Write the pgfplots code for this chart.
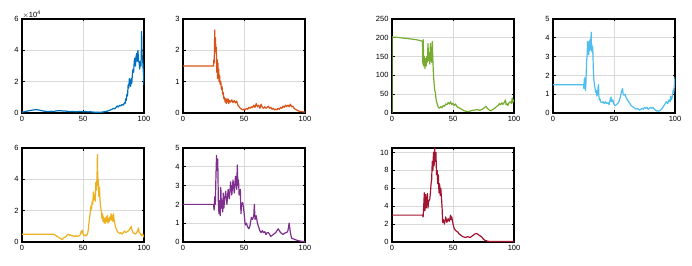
\documentclass[border=0pt]{standalone}
\usepackage{fontspec}
\setmainfont{Liberation Sans}
\usepackage{pgfplots}
\pgfplotsset{compat=1.18}
\definecolor{c1}{rgb}{0,0.447,0.741}
\definecolor{c2}{rgb}{0.85,0.325,0.098}
\definecolor{c3}{rgb}{0.929,0.694,0.125}
\definecolor{c4}{rgb}{0.494,0.184,0.556}
\definecolor{c5}{rgb}{0.466,0.674,0.188}
\definecolor{c6}{rgb}{0.301,0.745,0.933}
\definecolor{c7}{rgb}{0.635,0.078,0.184}
\pgfplotsset{
  mstyle/.style={
    width=122pt, height=94pt, scale only axis, anchor=south west,
    xmin=0, xmax=100, xtick={0,50,100}, ymin=0,
    grid=major, major grid style={line width=1pt, black!15},
    axis line style={line width=1.3pt, black},
    tick align=inside, major tick length=2.5pt,
    tick style={black, line width=0.7pt},
    ticklabel style={font=\fontsize{7.5}{9}\selectfont, text=black},
    /pgf/number format/assume math mode=true,
    scaled y ticks=false, clip mode=individual,
    every axis plot/.append style={line width=1.2pt, line join=round},
  }
}
\begin{document}
\begin{tikzpicture}
\useasboundingbox (0,0) rectangle (692pt,265pt);
% 1 blue
\begin{axis}[mstyle, at={(22pt,152pt)}, ymax=60000, ytick={0,20000,40000,60000}, yticklabels={0,2,4,6}]
\addplot[c1] coordinates {(0,500)(2,800)(4,1200)(6,1500)(8,1800)(10,2000)(12,2100)(14,1900)(16,1500)(18,1200)(20,1000)(22,900)(24,1100)(26,1000)(28,1300)(30,1500)(32,1400)(34,1300)(36,1200)(38,1000)(40,900)(42,1000)(44,800)(46,900)(48,1000)(50,800)(52,900)(54,700)(56,800)(58,600)(60,500)(62,500)(64,400)(66,600)(68,900)(70,1200)(72,1800)(74,2500)(75,3000)(76,2600)(77,3500)(78,4500)(79,3800)(80,5000)(81,4500)(82,5500)(83,5000)(84,6500)(84.5,6000)(85,9000)(85.5,8000)(86,12000)(86.5,11000)(87,18000)(87.5,16000)(88,22000)(88.5,19000)(89,17000)(89.5,22000)(90,19000)(90.5,25000)(91,28000)(91.5,26000)(92,33000)(92.5,35000)(93,30000)(93.5,36000)(94,38000)(94.5,33000)(95,40000)(95.5,34000)(96,32000)(96.5,28000)(97,33000)(97.5,30000)(97.8,38000)(98,52000)(98.3,40000)(98.6,35000)(99,33000)(99.3,28000)(99.6,25000)(100,18000)};
\node[anchor=south west, font=\fontsize{7.5}{9}\selectfont, text=black, inner sep=0.5pt] at (rel axis cs:0,1) {$\times\mathrm{10}^{\mathrm{4}}$};
\end{axis}
% 2 orange
\begin{axis}[mstyle, at={(183pt,152pt)}, ymax=3, ytick={0,1,2,3}]
\addplot[c2] coordinates {(0,1.5)(25,1.5)(25.3,1.7)(25.6,1.6)(26,2.65)(26.3,2.0)(26.6,2.4)(27,1.9)(27.3,2.1)(27.6,1.3)(28,1.7)(28.3,1.1)(28.6,1.6)(29,1.2)(29.3,1.4)(29.6,1.0)(30,1.2)(30.5,0.9)(31,1.0)(31.5,0.75)(32,0.85)(32.5,0.6)(33,0.65)(33.5,0.45)(34,0.5)(34.5,0.35)(35,0.45)(35.5,0.3)(36,0.45)(36.5,0.35)(37,0.45)(37.5,0.3)(38,0.4)(39,0.35)(40,0.42)(41,0.33)(42,0.4)(43,0.32)(44,0.38)(45,0.25)(46,0.2)(47,0.15)(48,0.12)(49,0.1)(50,0.12)(51,0.1)(52,0.15)(53,0.12)(54,0.18)(55,0.15)(56,0.2)(57,0.17)(58,0.25)(59,0.18)(60,0.3)(61,0.2)(62,0.25)(63,0.15)(64,0.28)(65,0.18)(66,0.15)(67,0.2)(68,0.15)(69,0.18)(70,0.22)(71,0.15)(72,0.18)(73,0.12)(74,0.15)(75,0.1)(76,0.12)(77,0.1)(78,0.15)(79,0.12)(80,0.18)(81,0.15)(82,0.22)(83,0.18)(84,0.25)(85,0.2)(86,0.25)(87,0.2)(88,0.28)(89,0.2)(90,0.22)(91,0.15)(92,0.12)(93,0.1)(94,0.08)(95,0.06)(96,0.05)(98,0.04)(100,0.03)};
\end{axis}
% 3 green
\begin{axis}[mstyle, at={(392pt,152pt)}, ymax=250, ytick={0,50,100,150,200,250}]
\addplot[c5] coordinates {(0,0)(0.01,202)(5,201)(10,199)(15,197)(20,195)(24,192)(25,190)(25.3,130)(25.6,195)(26,125)(26.5,150)(27,118)(27.5,145)(28,125)(28.5,150)(29,135)(29.5,185)(30,140)(30.5,160)(31,130)(31.5,185)(32,150)(32.5,135)(33,190)(33.5,140)(34,100)(34.5,80)(35,60)(35.5,55)(36,40)(36.5,30)(37,25)(38,15)(39,13)(40,17)(41,14)(42,20)(43,18)(44,24)(45,22)(46,28)(47,24)(48,30)(49,22)(50,26)(51,20)(52,24)(53,18)(54,15)(55,14)(56,12)(57,10)(58,8)(59,6)(60,5)(62,4)(64,5)(66,7)(68,8)(70,9)(72,7)(74,10)(75,12)(76,15)(77,18)(78,13)(79,10)(80,7)(81,6)(82,8)(83,10)(84,12)(85,15)(86,18)(87,20)(88,25)(89,22)(90,27)(91,23)(92,28)(93,35)(93.5,22)(94,25)(95,20)(96,28)(97,30)(98,25)(98.5,40)(99,28)(99.5,35)(100,30)};
\end{axis}
% 4 light blue
\begin{axis}[mstyle, at={(553pt,152pt)}, ymax=5, ytick={0,1,2,3,4,5}]
\addplot[c6] coordinates {(0,1.5)(25,1.5)(25.3,1.3)(25.6,1.8)(26,1.3)(26.3,1.9)(26.6,1.2)(27,1.6)(27.3,2.3)(27.6,2.8)(28,3.1)(28.3,3.8)(28.6,3.2)(29,3.7)(29.3,3.1)(29.6,3.8)(30,3.3)(30.3,3.9)(30.6,3.4)(31,3.6)(31.3,4.3)(31.6,3.3)(32,3.6)(32.3,3.2)(32.6,3.5)(33,2.4)(33.3,2.0)(33.6,1.7)(34,1.5)(34.5,1.3)(35,1.1)(35.5,1.2)(36,0.9)(36.5,1.0)(37,1.4)(37.3,1.5)(37.6,0.9)(38,0.7)(38.5,0.75)(39,0.6)(40,0.55)(41,0.6)(42,0.5)(43,0.6)(44,0.5)(45,0.55)(46,0.45)(47,0.75)(47.5,0.85)(48,0.6)(49,0.7)(50,0.45)(51,0.4)(52,0.45)(53,0.5)(54,0.6)(55,0.8)(56,1.1)(57,1.3)(57.5,1.0)(58,0.95)(59,1.0)(60,0.8)(61,0.7)(62,0.6)(63,0.5)(64,0.4)(65,0.35)(66,0.3)(67,0.25)(68,0.2)(69,0.25)(70,0.2)(71,0.15)(72,0.2)(73,0.25)(74,0.2)(75,0.3)(76,0.25)(77,0.3)(78,0.2)(79,0.25)(80,0.3)(81,0.25)(82,0.3)(83,0.2)(84,0.15)(85,0.1)(86,0.12)(87,0.1)(88,0.15)(89,0.2)(90,0.3)(91,0.4)(92,0.5)(93,0.6)(94,0.5)(95,0.7)(96,0.6)(96.5,0.9)(97,0.7)(98,0.9)(98.5,1.2)(99,1.1)(99.5,1.5)(100,1.9)};
\end{axis}
% 5 yellow
\begin{axis}[mstyle, at={(22pt,23pt)}, ymax=6, ytick={0,2,4,6}]
\addplot[c3] coordinates {(0,0.5)(26,0.5)(27,0.45)(28,0.4)(29,0.35)(30,0.3)(31,0.25)(32,0.2)(33,0.15)(34,0.25)(35,0.3)(36,0.35)(37,0.45)(38,0.5)(39,0.42)(40,0.45)(41,0.38)(42,0.4)(43,0.35)(44,0.4)(45,0.35)(46,0.38)(47,0.4)(48,0.5)(48.5,0.7)(49,0.6)(49.5,0.75)(50,0.5)(51,0.4)(52,0.45)(53,0.4)(54,0.6)(54.5,0.9)(55,1.3)(55.5,1.6)(56,1.9)(56.5,2.3)(57,2.1)(57.5,2.6)(58,2.4)(58.5,3.2)(59,2.7)(59.5,3.0)(60,2.6)(60.5,3.8)(61,3.3)(61.5,4.2)(61.8,5.6)(62.2,3.6)(62.5,4.0)(63,2.9)(63.5,3.5)(64,2.6)(64.5,2.2)(65,2.0)(65.5,1.5)(66,1.8)(66.5,1.3)(67,1.6)(67.5,1.2)(68,1.5)(68.5,1.2)(69,1.6)(69.5,1.3)(70,1.7)(70.5,1.2)(71,1.5)(71.5,1.3)(72,1.6)(72.5,1.4)(73,1.8)(73.5,1.4)(74,1.7)(74.5,1.3)(75,1.8)(75.5,1.4)(76,1.2)(76.5,1.0)(77,0.9)(77.5,0.8)(78,0.7)(79,0.6)(80,0.55)(81,0.6)(82,0.5)(83,0.6)(84,0.7)(85,0.6)(86,0.65)(87,0.7)(88,0.8)(89,0.9)(89.5,1.0)(90,0.8)(91,0.6)(92,0.55)(93,0.5)(94,0.6)(95,0.75)(95.5,0.9)(96,0.6)(97,0.55)(98,0.4)(99,0.5)(100,0.3)};
\end{axis}
% 6 purple
\begin{axis}[mstyle, at={(183pt,23pt)}, ymax=5, ytick={0,1,2,3,4,5}]
\addplot[c4] coordinates {(0,2)(25,2)(25.5,1.7)(26,2.4)(26.5,2.0)(27,3.5)(27.5,4.6)(28,3.8)(28.5,4.4)(29,2.0)(29.5,1.5)(30,2.2)(30.5,1.4)(31,2.9)(31.5,1.8)(32,2.2)(32.5,1.6)(33,2.6)(33.5,1.8)(34,2.2)(35,2.7)(36,2.0)(37,2.8)(38,2.3)(39,3.2)(40,2.5)(41,3.3)(42,2.6)(43,3.5)(44,2.8)(44.5,4.1)(45,3.0)(45.5,3.3)(46,2.5)(47,2.8)(47.5,1.5)(48,2.0)(49,2.1)(50,1.6)(51,0.9)(52,1.0)(53,0.8)(54,0.7)(55,0.9)(56,1.3)(57,1.2)(58,1.4)(58.5,2.0)(59,1.2)(60,1.4)(61,1.0)(62,0.8)(63,0.6)(64,0.5)(65,0.6)(66,0.5)(67,0.55)(68,0.4)(69,0.5)(70,0.5)(71,0.4)(72,0.3)(73,0.35)(74,0.4)(75,0.45)(76,0.5)(77,0.6)(78,0.7)(79,0.6)(80,0.5)(81,0.45)(82,0.4)(83,0.45)(84,0.5)(85,0.5)(86,0.6)(87,1.0)(88,0.5)(89,0.2)(90,0.18)(91,0.15)(93,0.1)(96,0.05)(100,0.01)};
\end{axis}
% 7 dark red
\begin{axis}[mstyle, at={(392pt,23pt)}, ymax=10.5, ytick={0,2,4,6,8,10}]
\addplot[c7] coordinates {(0,3)(25,3)(25.5,2.8)(26,4.0)(26.5,5.5)(27,3.5)(27.5,5.3)(28,3.8)(28.5,4.5)(29,5.4)(29.5,3.8)(30,4.5)(31,4.8)(31.5,5.5)(32,6.5)(32.5,7.0)(33,9.0)(33.5,8.0)(34,10.0)(34.5,8.5)(35,10.5)(35.5,9.0)(36,10.0)(36.5,7.5)(37,8.0)(37.5,6.5)(38,7.5)(38.5,5.5)(39,6.5)(39.5,5.2)(40,6.0)(40.5,5.0)(41,4.0)(41.5,2.2)(42,2.5)(43,2.0)(44,2.8)(45,2.2)(46,2.6)(47,2.3)(48,3.0)(48.5,2.5)(49,2.8)(50,2.0)(51,1.5)(52,1.3)(53,1.2)(54,1.1)(55,0.9)(56,0.8)(57,0.7)(58,0.6)(59,0.55)(60,0.5)(61,0.55)(62,0.6)(63,0.55)(64,0.5)(65,0.6)(66,0.7)(67,0.8)(68,0.9)(69,0.95)(70,0.9)(71,0.8)(72,0.7)(73,0.6)(74,0.5)(75,0.3)(76,0.2)(78,0.1)(80,0.05)(85,0.05)(90,0.05)(100,0.05)};
\end{axis}
\end{tikzpicture}
\end{document}
